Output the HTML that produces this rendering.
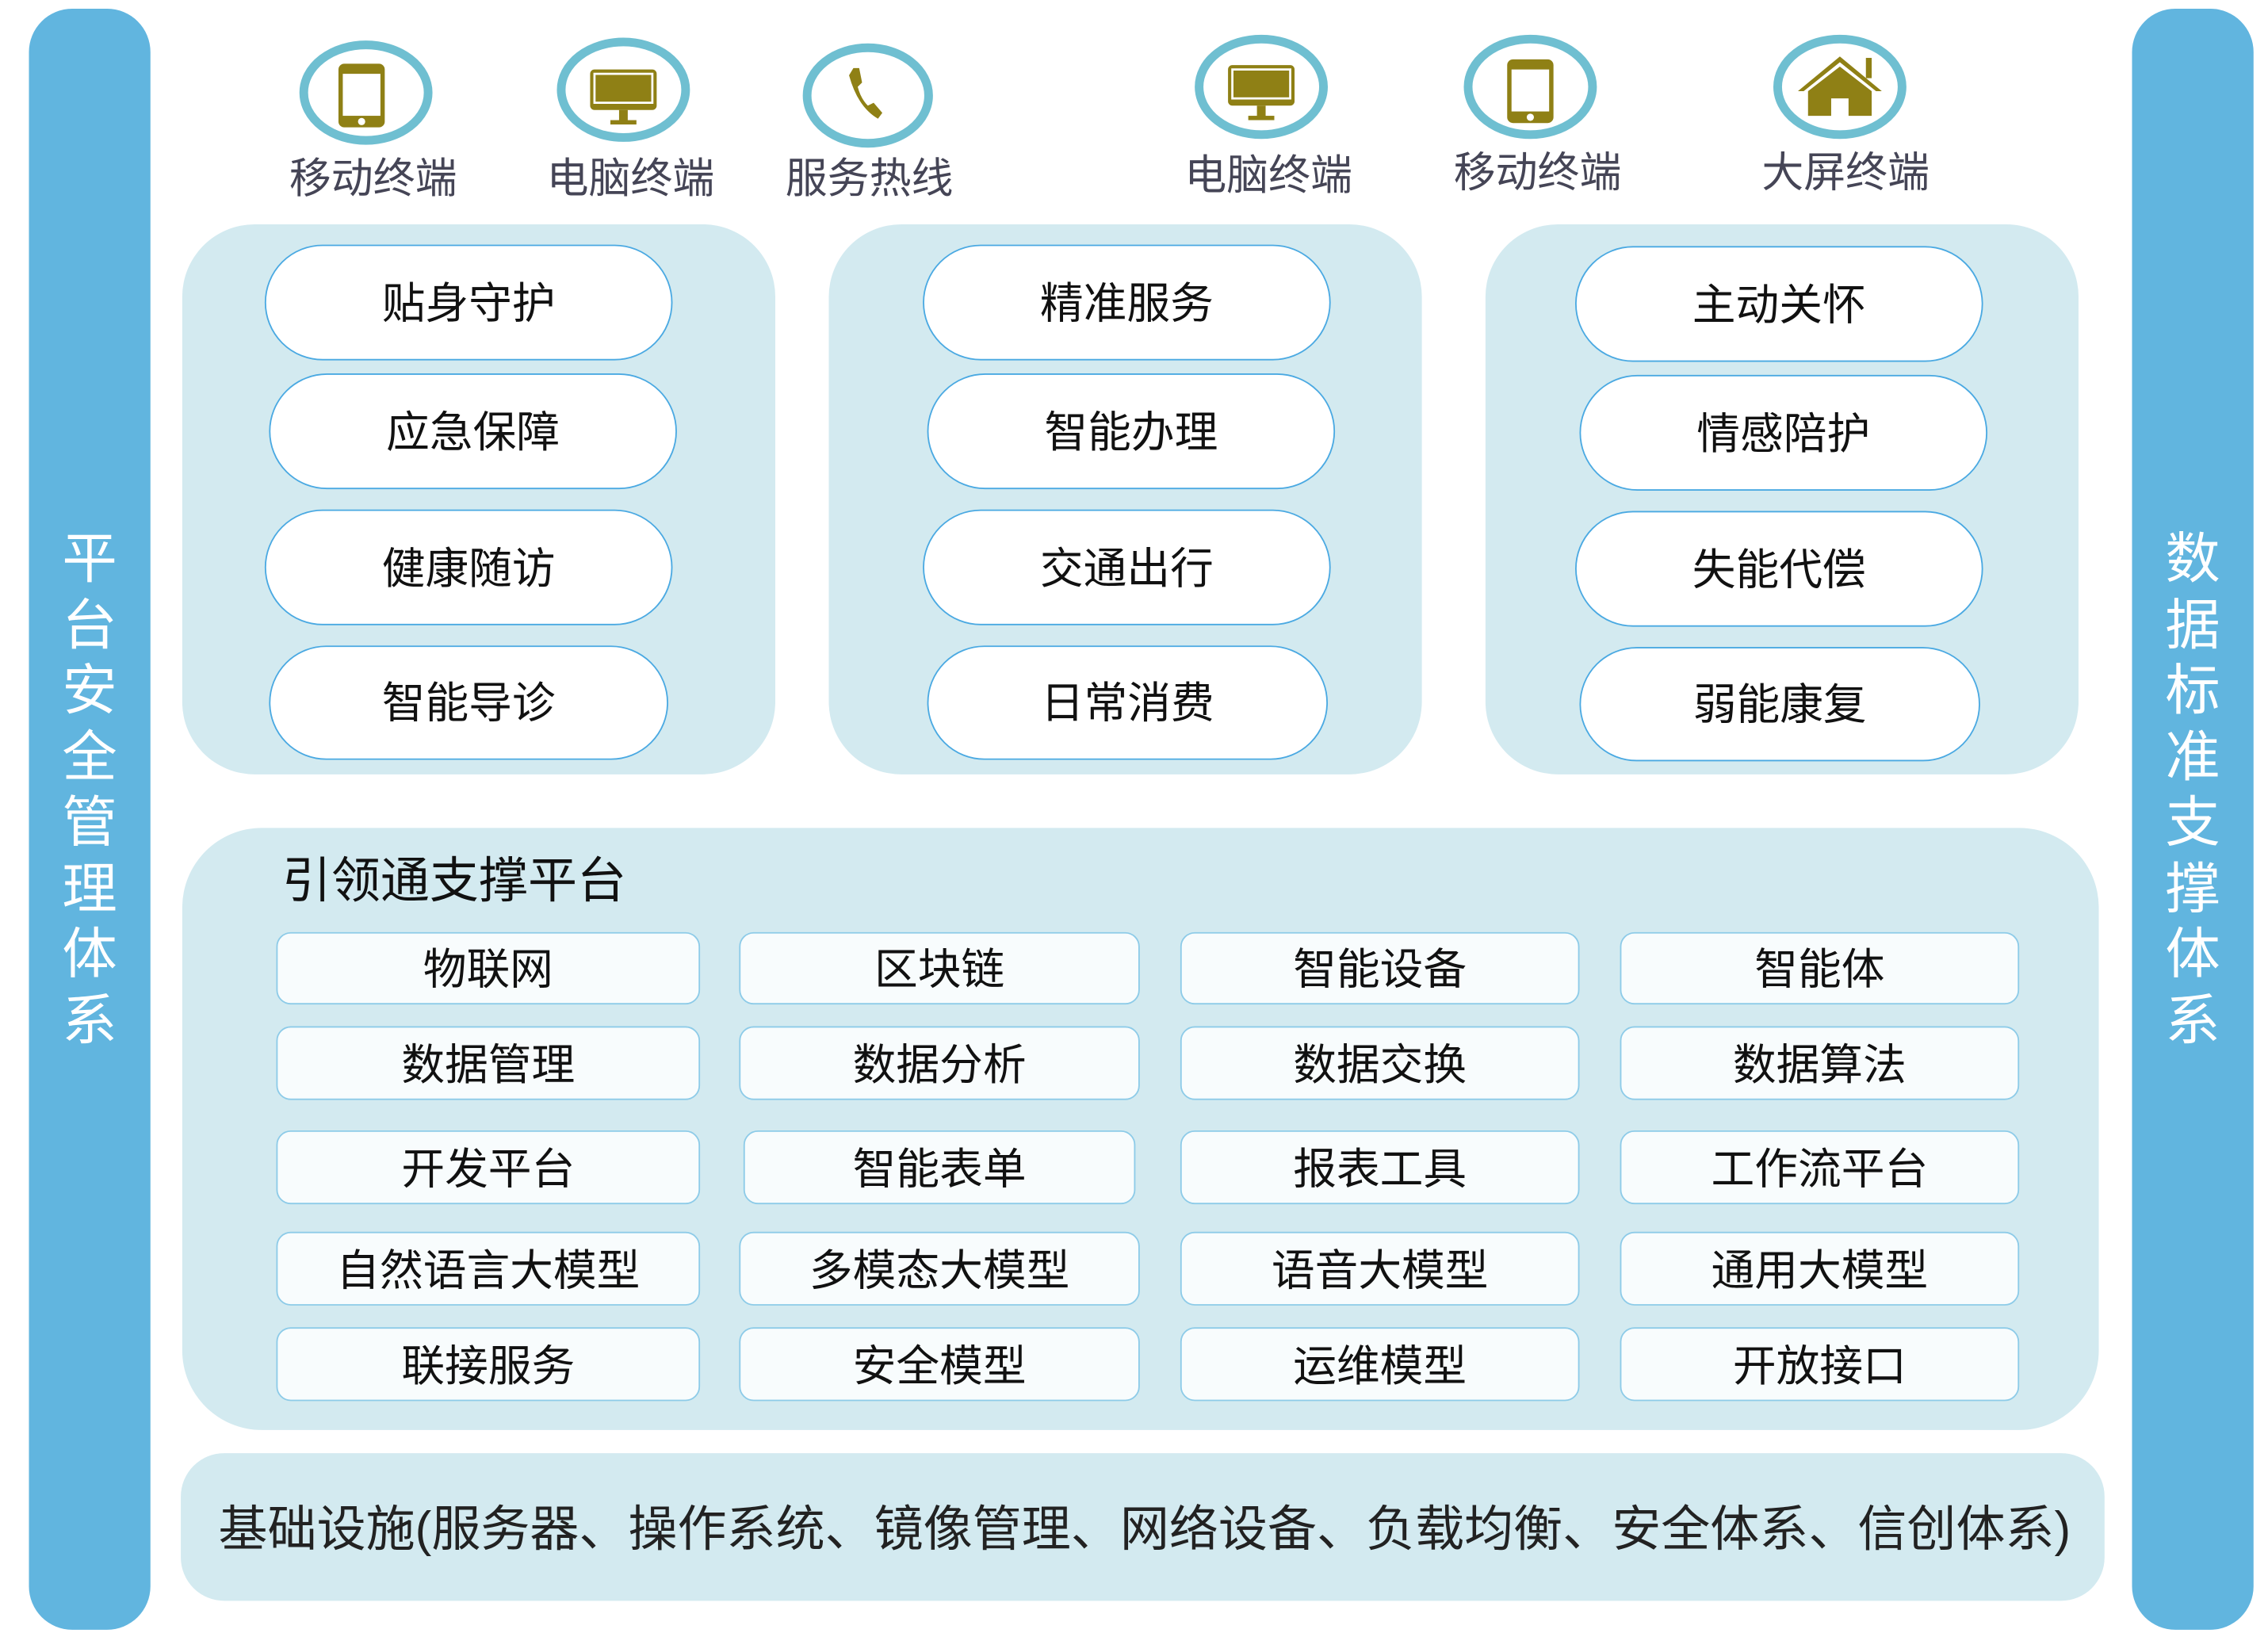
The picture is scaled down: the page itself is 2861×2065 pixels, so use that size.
<!DOCTYPE html>
<html><head><meta charset="utf-8"><style>
html,body{margin:0;padding:0;background:#fff;overflow:hidden}
body{width:2861px;height:2065px}
#w{position:absolute;left:0;top:0;width:1568px;height:1131px;transform:scale(1.82462,1.82582);transform-origin:0 0;font-family:"Liberation Sans","Noto Sans CJK SC",sans-serif}
.a{position:absolute;box-sizing:border-box}
.bar{background:#61b5df;border-radius:30px;width:84px;top:6px;height:1120px}
.vt{position:absolute;left:0;width:84px;top:359px;color:#fff;font-size:38px;line-height:45.5px;text-align:center}
.pan{background:#d3eaf0;border-radius:50px}
.pill{background:#fff;border:1.5px solid #4aa9e2;border-radius:40px;display:flex;align-items:center;justify-content:center;font-size:30px;color:#111;padding-bottom:5px}
.box{background:#f8fcfd;border:1.3px solid #8dcbe8;border-radius:10px;display:flex;align-items:center;justify-content:center;font-size:30px;color:#111;padding-bottom:4px}
.lab{position:absolute;font-size:29px;color:#454556;width:160px;text-align:center}
</style></head><body><div id="w">
<div class="a bar" style="left:20px"><div class="vt">平<br>台<br>安<br>全<br>管<br>理<br>体<br>系</div></div>
<div class="a bar" style="left:1474px"><div class="vt">数<br>据<br>标<br>准<br>支<br>撑<br>体<br>系</div></div>

<svg class="a" style="left:0;top:0" width="1568" height="150">
<g fill="none" stroke="#6fbfd1" stroke-width="6">
<ellipse cx="253" cy="64" rx="43" ry="33"/>
<ellipse cx="431" cy="62" rx="43" ry="33"/>
<ellipse cx="600" cy="66" rx="42" ry="33"/>
<ellipse cx="872" cy="60" rx="43" ry="33"/>
<ellipse cx="1058" cy="60" rx="43" ry="33"/>
<ellipse cx="1272" cy="60" rx="43" ry="33"/>
</g>
<g fill="#8f8015">
<rect x="234" y="44" width="32" height="44" rx="4"/><rect x="237" y="51" width="26" height="29" fill="#fff"/><circle cx="250" cy="84" r="2.5" fill="#fff"/>
<rect x="408" y="48" width="46" height="28" rx="3"/><rect x="411" y="51" width="40" height="20" fill="none" stroke="#fff" stroke-width="1.5"/><rect x="428" y="76" width="6" height="8"/><rect x="422" y="83" width="18" height="3"/>
<path d="M590 47 l4 0 l2 10 l-3 3 q2 8 7 13 l4 -2 l6 7 l-3 4 q-14 -8 -20 -30 z"/>
<rect x="849" y="45" width="46" height="28" rx="3"/><rect x="852" y="48" width="40" height="20" fill="none" stroke="#fff" stroke-width="1.5"/><rect x="869" y="73" width="6" height="8"/><rect x="863" y="80" width="18" height="3"/>
<rect x="1042" y="41" width="32" height="44" rx="4"/><rect x="1045" y="48" width="26" height="29" fill="#fff"/><circle cx="1058" cy="81" r="2.5" fill="#fff"/>
<path d="M1243 63 l29 -24 l29 24 l-4 0 l-25 -20 l-25 20 z"/><path d="M1250 63 l22 -17 l22 17 v17 h-16 v-12 h-12 v12 h-16z"/><rect x="1290" y="40" width="4" height="14"/>
</g></svg>
<div class="lab" style="left:178px;top:100px">移动终端</div>
<div class="lab" style="left:356px;top:100px">电脑终端</div>
<div class="lab" style="left:521px;top:100px">服务热线</div>
<div class="lab" style="left:797px;top:98px">电脑终端</div>
<div class="lab" style="left:983px;top:96px">移动终端</div>
<div class="lab" style="left:1196px;top:96px">大屏终端</div>

<div class="a pan" style="left:126px;top:155px;width:410px;height:380px"></div>
<div class="a pan" style="left:573px;top:155px;width:410px;height:380px"></div>
<div class="a pan" style="left:1027px;top:155px;width:410px;height:380px"></div>

<div class="a pill" style="left:183px;top:169px;width:282px;height:80px">贴身守护</div>
<div class="a pill" style="left:186px;top:258px;width:282px;height:80px">应急保障</div>
<div class="a pill" style="left:183px;top:352px;width:282px;height:80px">健康随访</div>
<div class="a pill" style="left:186px;top:446px;width:276px;height:79px">智能导诊</div>
<div class="a pill" style="left:638px;top:169px;width:282px;height:80px">精准服务</div>
<div class="a pill" style="left:641px;top:258px;width:282px;height:80px">智能办理</div>
<div class="a pill" style="left:638px;top:352px;width:282px;height:80px">交通出行</div>
<div class="a pill" style="left:641px;top:446px;width:277px;height:79px">日常消费</div>
<div class="a pill" style="left:1089px;top:170px;width:282px;height:80px">主动关怀</div>
<div class="a pill" style="left:1092px;top:259px;width:282px;height:80px">情感陪护</div>
<div class="a pill" style="left:1089px;top:353px;width:282px;height:80px">失能代偿</div>
<div class="a pill" style="left:1092px;top:447px;width:277px;height:79px">弱能康复</div>

<div class="a pan" style="left:126px;top:572px;width:1325px;height:416px;border-radius:55px"></div>
<div class="a" style="left:195px;top:581px;font-size:34px;color:#111">引领通支撑平台</div>

<div class="a box" style="left:191px;top:644px;width:293px;height:50px">物联网</div>
<div class="a box" style="left:511px;top:644px;width:277px;height:50px">区块链</div>
<div class="a box" style="left:816px;top:644px;width:276px;height:50px">智能设备</div>
<div class="a box" style="left:1120px;top:644px;width:276px;height:50px">智能体</div>
<div class="a box" style="left:191px;top:709px;width:293px;height:51px">数据管理</div>
<div class="a box" style="left:511px;top:709px;width:277px;height:51px">数据分析</div>
<div class="a box" style="left:816px;top:709px;width:276px;height:51px">数据交换</div>
<div class="a box" style="left:1120px;top:709px;width:276px;height:51px">数据算法</div>
<div class="a box" style="left:191px;top:781px;width:293px;height:51px">开发平台</div>
<div class="a box" style="left:514px;top:781px;width:271px;height:51px">智能表单</div>
<div class="a box" style="left:816px;top:781px;width:276px;height:51px">报表工具</div>
<div class="a box" style="left:1120px;top:781px;width:276px;height:51px">工作流平台</div>
<div class="a box" style="left:191px;top:851px;width:293px;height:51px">自然语言大模型</div>
<div class="a box" style="left:511px;top:851px;width:277px;height:51px">多模态大模型</div>
<div class="a box" style="left:816px;top:851px;width:276px;height:51px">语音大模型</div>
<div class="a box" style="left:1120px;top:851px;width:276px;height:51px">通用大模型</div>
<div class="a box" style="left:191px;top:917px;width:293px;height:51px">联接服务</div>
<div class="a box" style="left:511px;top:917px;width:277px;height:51px">安全模型</div>
<div class="a box" style="left:816px;top:917px;width:276px;height:51px">运维模型</div>
<div class="a box" style="left:1120px;top:917px;width:276px;height:51px">开放接口</div>

<div class="a pan" style="left:125px;top:1004px;width:1330px;height:102px;border-radius:30px"></div>
<div class="a" style="left:151px;top:1029px;font-size:34px;color:#222;white-space:nowrap">基础设施(服务器、操作系统、镜像管理、网络设备、负载均衡、安全体系、信创体系)</div>
</div></body></html>
